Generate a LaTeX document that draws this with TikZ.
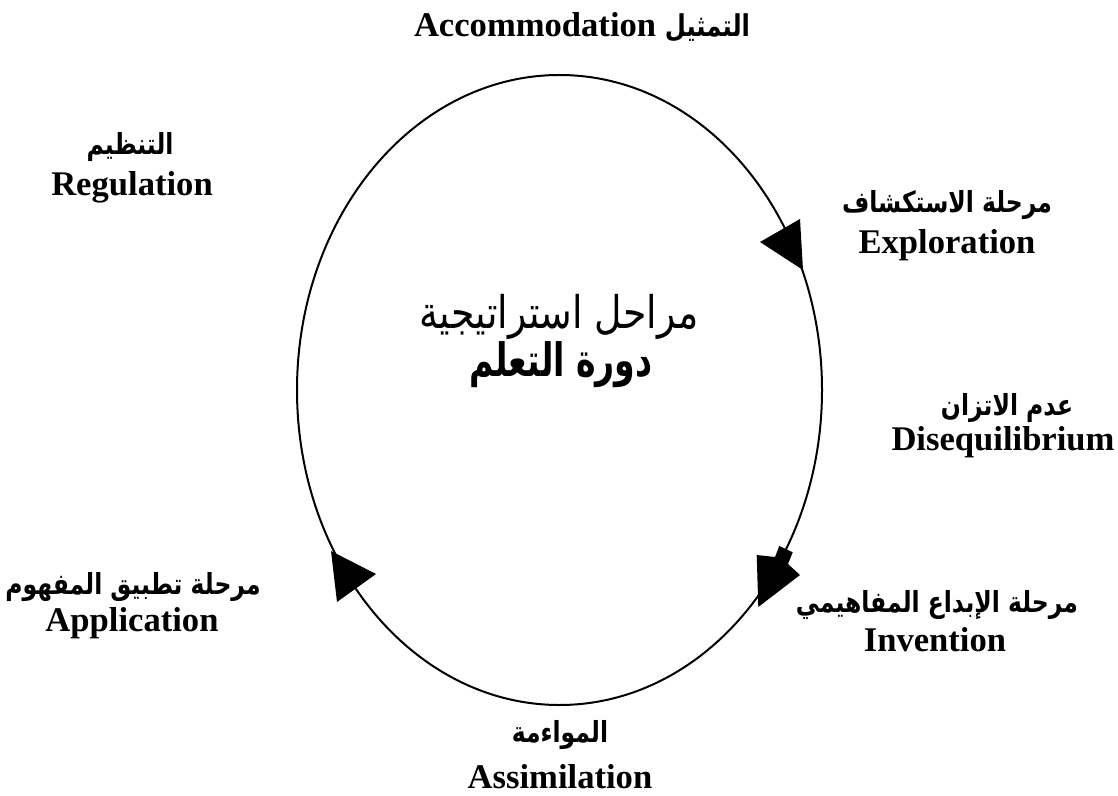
\documentclass[tikz,border=0pt]{standalone}
\usepackage{fontspec}
\setmainfont{Liberation Serif}
\newfontfamily\arabicfont[Script=Arabic,FakeStretch=0.81]{DejaVu Sans}
\newfontfamily\arabicwide[Script=Arabic,FakeStretch=0.84]{DejaVu Sans}
\newfontfamily\arabicnarrow[Script=Arabic,FakeStretch=0.72]{DejaVu Sans}
\TeXXeTstate=1
\begin{document}
\begin{tikzpicture}[x=0.5pt,y=-0.5pt,
  lab/.style={font=\fontsize{17.3}{20}\selectfont\bfseries, inner sep=0pt},
  arlab/.style={font=\fontsize{14.5}{18}\selectfont\arabicfont\bfseries, inner sep=0pt},
  head/.style={fill=black}]
\useasboundingbox (0,0) rectangle (1118,796);
\fill[white] (0,0) rectangle (1118,796);
% cycle ellipse
\draw[line width=1pt] (559.5,390) ellipse [x radius=131.25pt, y radius=157.5pt];
% arrow heads
\fill[head] (760,242) -- (800,219) -- (803,270) -- cycle;
\fill[head] (756.7,555) -- (775,557) -- (779.3,546) -- (792.7,552.3) -- (788,564) -- (800,575) -- (758.3,607) -- cycle;
\fill[head] (331,551) -- (376,574) -- (337,602) -- cycle;
% center title
\node[inner sep=0pt, font=\fontsize{22.5}{26}\selectfont\arabicwide] (c1) at (559,317) {\beginR مراحل استراتيجية\endR};
\node[inner sep=0pt, font=\fontsize{23}{26}\selectfont\arabicnarrow\bfseries] (c2) at (561,365) {\beginR دورة التعلم\endR};
% labels
\node[lab] (acc) at (582,27) {Accommodation {\arabicfont\fontsize{15}{18}\selectfont\beginR التمثيل\endR}};
\node[arlab] (rega) at (130,147) {\beginR التنظيم\endR};
\node[lab] (rege) at (132,187) {Regulation};
\node[arlab] (expa) at (947,205) {\beginR مرحلة الاستكشاف\endR};
\node[lab] (expe) at (947,245) {Exploration};
\node[arlab] (disa) at (1007,408) {\beginR عدم الاتزان\endR};
\node[lab] (dise) at (1003,442) {Disequilibrium};
\node[arlab] (inva) at (937,605) {\beginR مرحلة الإبداع المفاهيمي\endR};
\node[lab] (inve) at (935,640) {Invention};
\node[arlab] (appa) at (133,587) {\beginR مرحلة تطبيق المفهوم\endR};
\node[lab] (appe) at (132,623) {Application};
\node[arlab] (assa) at (560,735) {\beginR المواءمة\endR};
\node[lab] (asse) at (560,777) {Assimilation};
\end{tikzpicture}
\end{document}
